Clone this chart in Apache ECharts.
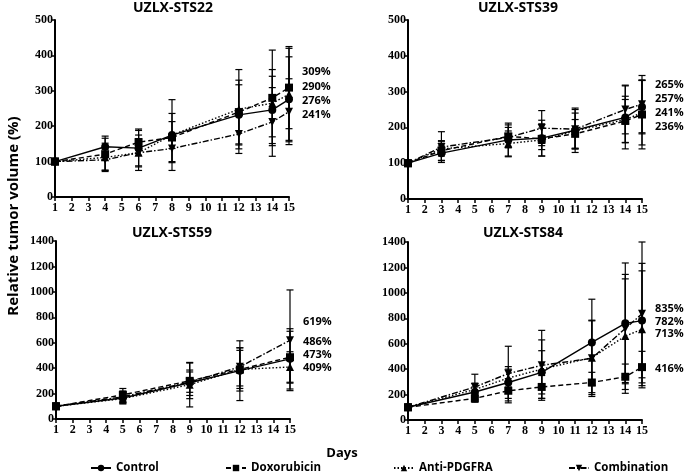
<!DOCTYPE html>
<html>
<head>
<meta charset="utf-8">
<script src="https://cdn.jsdelivr.net/npm/echarts@6/dist/echarts.min.js"></script>
<style>html,body{margin:0;padding:0;background:#fff}#c{width:685px;height:472px}</style>
</head>
<body>
<div id="c"></div>
<script>
// ---- Data ----
const seriesNames = ['Control', 'Doxorubicin', 'Anti-PDGFRA', 'Combination'];
const panelTitles = ['UZLX-STS22', 'UZLX-STS39', 'UZLX-STS59', 'UZLX-STS84'];

// UZLX-STS22
const days22 = [1, 4, 6, 8, 12, 14, 15];
const ctrl22 = [100, 142, 138, 175, 232, 246, 276];
const dox22  = [100, 121, 155, 168, 240, 280, 309];
const anti22 = [100, 112, 125, 175, 248, 265, 290];
const comb22 = [100, 105, 125, 137, 178, 212, 241];
const ctrl22Err = [0, 30, 50, 38, 85, 95, 120];
const dox22Err  = [0, 45, 37, 68, 90, 135, 116];
const anti22Err = [0, 40, 50, 100, 112, 95, 130];
const comb22Err = [0, 30, 40, 40, 55, 97, 93];
const labels22 = ['309%', '290%', '276%', '241%'];

// UZLX-STS39
const days39 = [1, 3, 7, 9, 11, 14, 15];
const ctrl39 = [100, 128, 165, 170, 192, 228, 257];
const dox39  = [100, 135, 175, 168, 182, 218, 236];
const anti39 = [100, 140, 155, 165, 190, 222, 241];
const comb39 = [100, 145, 172, 198, 195, 250, 265];
const ctrl39Err = [0, 20, 47, 50, 62, 88, 75];
const dox39Err  = [0, 28, 32, 30, 40, 60, 96];
const anti39Err = [0, 20, 35, 45, 50, 65, 90];
const comb39Err = [0, 43, 28, 49, 55, 68, 80];
const labels39 = ['265%', '257%', '241%', '236%'];

// UZLX-STS59
const days59 = [1, 5, 9, 12, 15];
const ctrl59 = [100, 165, 285, 380, 473];
const dox59  = [100, 190, 300, 390, 486];
const anti59 = [100, 160, 270, 390, 409];
const comb59 = [100, 175, 290, 410, 619];
const ctrl59Err = [0, 45, 100, 235, 237];
const dox59Err  = [0, 50, 140, 170, 204];
const anti59Err = [0, 40, 175, 150, 120];
const comb59Err = [0, 45, 80, 150, 396];
const labels59 = ['619%', '486%', '473%', '409%'];

// UZLX-STS84
const days84 = [1, 5, 7, 9, 12, 14, 15];
const ctrl84 = [100, 220, 295, 375, 610, 760, 782];
const dox84  = [100, 170, 230, 260, 295, 340, 416];
const anti84 = [100, 240, 330, 400, 490, 660, 713];
const comb84 = [100, 260, 365, 430, 485, 720, 835];
const ctrl84Err = [0, 40, 125, 170, 340, 475, 450];
const dox84Err  = [0, 30, 95, 90, 80, 100, 124];
const anti84Err = [0, 50, 70, 230, 290, 450, 460];
const comb84Err = [0, 100, 215, 275, 300, 425, 565];
const labels84 = ['835%', '782%', '713%', '416%'];

const yMax = [500, 500, 1400, 1400];
const yStep = [100, 100, 200, 200];
const xTicks = [1, 15, 1];

// ---- Build ----
const panels = [
  {days: days22, vals: [ctrl22, dox22, anti22, comb22], errs: [ctrl22Err, dox22Err, anti22Err, comb22Err], labels: labels22},
  {days: days39, vals: [ctrl39, dox39, anti39, comb39], errs: [ctrl39Err, dox39Err, anti39Err, comb39Err], labels: labels39},
  {days: days59, vals: [ctrl59, dox59, anti59, comb59], errs: [ctrl59Err, dox59Err, anti59Err, comb59Err], labels: labels59},
  {days: days84, vals: [ctrl84, dox84, anti84, comb84], errs: [ctrl84Err, dox84Err, anti84Err, comb84Err], labels: labels84}
];

const gridPos = [
  {left: 55, top: 20, width: 234, height: 177},
  {left: 408, top: 20, width: 234, height: 179},
  {left: 56, top: 241, width: 234, height: 178},
  {left: 408, top: 242, width: 234, height: 178}
];

const styles = [
  {symbol: 'circle', rotate: 0, type: 'solid', size: 8},
  {symbol: 'rect', rotate: 0, type: [5, 3], size: 8},
  {symbol: 'triangle', rotate: 0, type: [1.5, 2], size: 8},
  {symbol: 'triangle', rotate: 180, type: [6, 2, 1.5, 2], size: 8}
];

const serif = 'Liberation Serif';
const sans = 'Open Sans';

const grids = gridPos.map(g => Object.assign({containLabel: false}, g));
const xAxes = gridPos.map((g, i) => ({
  type: 'value', gridIndex: i, min: xTicks[0], max: xTicks[1], interval: xTicks[2],
  axisLine: {lineStyle: {color: '#000', width: 2}},
  axisTick: {length: 4, lineStyle: {color: '#000', width: 1.5}},
  axisLabel: {color: '#000', fontFamily: serif, fontWeight: 'bold', fontSize: 12, margin: 5},
  splitLine: {show: false}
}));
const yAxes = gridPos.map((g, i) => ({
  type: 'value', gridIndex: i, min: 0, max: yMax[i], interval: yStep[i],
  axisLine: {show: true, lineStyle: {color: '#000', width: 2}},
  axisTick: {show: true, length: 4, lineStyle: {color: '#000', width: 1.5}},
  axisLabel: {color: '#000', fontFamily: serif, fontWeight: 'bold', fontSize: 12, margin: 2,
    formatter: v => String(v)},
  splitLine: {show: false}
}));

const series = [];
panels.forEach((p, i) => {
  p.vals.forEach((v, j) => {
    series.push({
      type: 'custom', xAxisIndex: i, yAxisIndex: i, silent: true, z: 1,
      data: p.days.map((d, k) => [d, v[k] - p.errs[j][k], v[k] + p.errs[j][k]]),
      encode: {x: 0, y: [1, 2]},
      renderItem: function (params, api) {
        const x = api.value(0), lo = api.value(1), hi = api.value(2);
        if (hi - lo <= 0) return null;
        const a = api.coord([x, hi]), b = api.coord([x, lo]);
        const w = 3.5;
        const st = {stroke: '#000', lineWidth: 1.2};
        return {type: 'group', children: [
          {type: 'line', shape: {x1: a[0], y1: a[1], x2: b[0], y2: b[1]}, style: st},
          {type: 'line', shape: {x1: a[0] - w, y1: a[1], x2: a[0] + w, y2: a[1]}, style: st},
          {type: 'line', shape: {x1: b[0] - w, y1: b[1], x2: b[0] + w, y2: b[1]}, style: st}
        ]};
      }
    });
  });
  p.vals.forEach((v, j) => {
    const s = styles[j];
    series.push({
      name: seriesNames[j], type: 'line', xAxisIndex: i, yAxisIndex: i, z: 3,
      data: p.days.map((d, k) => [d, v[k]]),
      symbol: s.symbol, symbolRotate: s.rotate, symbolSize: s.size,
      lineStyle: {color: '#000', width: 1.4, type: s.type},
      itemStyle: {color: '#000'},
      animation: false
    });
  });
});

const labelX = [302, 655, 303, 655];
const labelY = [[72, 87, 101, 115], [85, 99, 113, 127], [322, 342, 355, 368], [309, 322, 334, 369]];
const titlePos = [[173, 8], [518, 8], [172, 233], [523, 233]];

const graphic = [];
panels.forEach((p, i) => {
  graphic.push({type: 'text', x: titlePos[i][0], y: titlePos[i][1], style: {
    text: panelTitles[i], fill: '#000', font: 'bold 14px "Open Sans"', align: 'center', verticalAlign: 'middle'}});
  p.labels.forEach((t, k) => {
    graphic.push({type: 'text', x: labelX[i], y: labelY[i][k], style: {
      text: t, fill: '#000', font: 'bold 11px "Open Sans"', verticalAlign: 'middle'}});
  });
});
graphic.push({type: 'text', x: 342, y: 453, style: {text: 'Days', fill: '#000', font: 'bold 13px "Open Sans"', align: 'center', verticalAlign: 'middle'}});
graphic.push({type: 'text', x: 14, y: 216, rotation: Math.PI / 2, style: {text: 'Relative tumor volume (%)', fill: '#000', font: 'bold 15px "Open Sans"', align: 'center', verticalAlign: 'middle'}});

const legendLeft = [90, 225, 393, 568];
const legends = seriesNames.map((n, j) => ({
  data: [n], left: legendLeft[j], top: 462, padding: 0, itemWidth: 20, itemHeight: 8, itemGap: 5,
  textStyle: {color: '#000', fontFamily: sans, fontWeight: 'bold', fontSize: 11.5},
  selectedMode: false
}));

const chart = echarts.init(document.getElementById('c'), null, {renderer: 'canvas'});
chart.setOption({
  animation: false,
  backgroundColor: '#fff',
  grid: grids, xAxis: xAxes, yAxis: yAxes, series: series,
  legend: legends, graphic: graphic
});
</script>
</body>
</html>
